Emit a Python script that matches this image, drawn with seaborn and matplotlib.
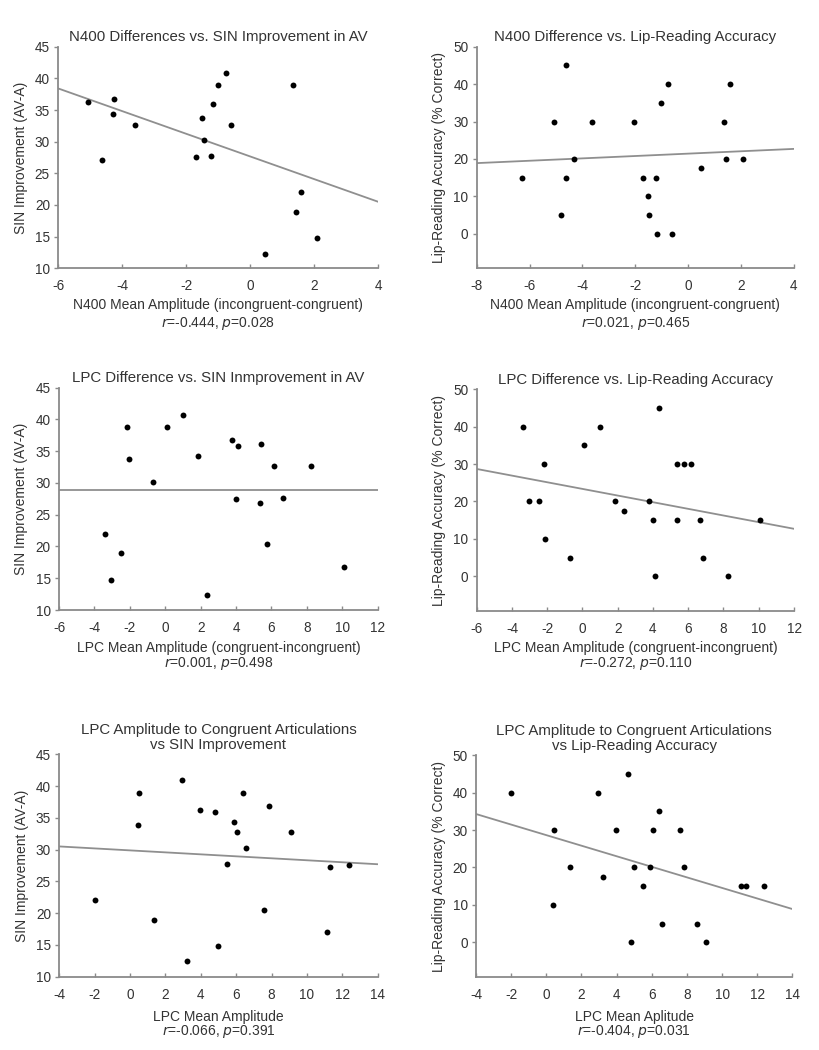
import numpy as np
import pandas as pd
import matplotlib
matplotlib.use("Agg")
import matplotlib.pyplot as plt
import seaborn as sns

sns.set_theme(style="white")
plt.rcParams['font.family'] = ['Liberation Sans', 'DejaVu Sans']
plt.rcParams['axes.unicode_minus'] = False

# ---------------- data ----------------
# Panel 1: N400 difference vs SIN improvement
p1_x = [-5.06, -4.26, -4.30, -4.63, -3.60, -1.70, -1.51, -1.46, -1.22, -1.18,
        -1.00, -0.75, -0.59, 0.47, 1.34, 1.44, 1.59, 2.08]
p1_y = [36.3, 36.8, 34.3, 27.1, 32.7, 27.6, 33.8, 30.2, 27.7, 35.9,
        38.9, 40.9, 32.7, 12.2, 38.9, 18.9, 22.0, 14.8]
p1_fit = [38.4, 20.5]

# Panel 2: N400 difference vs lip-reading accuracy
p2_x = [-6.30, -5.07, -4.64, -4.64, -4.83, -4.33, -3.63, -2.05, -1.70, -1.52,
        -1.48, -1.18, -1.22, -1.02, -0.76, -0.60, 0.47, 1.35, 1.44, 1.59, 2.08]
p2_y = [15, 30, 45, 15, 5, 20, 30, 30, 15, 10,
        5, 0, 15, 35, 40, 0, 17.5, 30, 20, 40, 20]
p2_fit = [18.9, 22.7]

# Panel 3: LPC difference vs SIN improvement
p3_x = [-2.16, -2.06, -0.71, 0.12, 1.00, 1.85, 3.76, 4.13, 5.43, 6.13,
        8.24, 4.02, 5.37, 6.66, 5.75, 10.12, -3.38, -2.48, -3.04, 2.38]
p3_y = [38.8, 33.7, 30.1, 38.8, 40.7, 34.2, 36.7, 35.8, 36.2, 32.7,
        32.7, 27.5, 26.9, 27.7, 20.4, 16.8, 21.9, 18.9, 14.8, 12.3]
p3_fit = [28.9, 28.9]

# Panel 4: LPC difference vs lip-reading accuracy
p4_x = [-3.39, -3.05, -2.46, -2.16, -2.11, -0.71, 0.11, 1.00, 1.85, 2.36,
        3.75, 4.02, 4.11, 4.32, 5.36, 5.38, 5.76, 6.14, 6.65, 6.85, 8.23, 10.09]
p4_y = [40, 20, 20, 30, 10, 5, 35, 40, 20, 17.5,
        20, 15, 0, 45, 15, 30, 30, 30, 15, 5, 0, 15]
p4_fit = [28.7, 12.7]

# Panel 5: LPC amplitude (congruent) vs SIN improvement
p5_x = [-2.00, 0.43, 0.49, 1.35, 2.95, 3.24, 3.95, 4.80, 4.99, 5.48,
        5.88, 6.06, 6.40, 6.57, 7.57, 7.84, 9.10, 11.11, 11.32, 12.40]
p5_y = [22.1, 33.8, 38.9, 19.0, 40.9, 12.4, 36.3, 35.9, 14.9, 27.8,
        34.3, 32.8, 38.9, 30.2, 20.5, 36.8, 32.8, 17.0, 27.2, 27.6]
p5_fit = [30.5, 27.7]

# Panel 6: LPC amplitude (congruent) vs lip-reading accuracy
p6_x = [-2.00, 0.46, 0.40, 1.37, 2.94, 3.25, 3.97, 4.67, 4.80, 5.01,
        5.48, 5.88, 6.07, 6.39, 6.60, 7.59, 7.86, 8.59, 9.11, 11.10, 11.35, 12.41]
p6_y = [40, 30, 10, 20, 40, 17.5, 30, 45, 0, 20,
        15, 20, 30, 35, 5, 30, 20, 5, 0, 15, 15, 15]
p6_fit = [34.3, 8.9]

titles = [
    "N400 Differences vs. SIN Improvement in AV",
    "N400 Difference vs. Lip-Reading Accuracy",
    "LPC Difference vs. SIN Inmprovement in AV",
    "LPC Difference vs. Lip-Reading Accuracy",
    "LPC Amplitude to Congruent Articulations\nvs SIN Improvement",
    "LPC Amplitude to Congruent Articulations\nvs Lip-Reading Accuracy",
]
xlabels = [
    "N400 Mean Amplitude (incongruent-congruent)",
    "N400 Mean Amplitude (incongruent-congruent)",
    "LPC Mean Amplitude (congruent-incongruent)",
    "LPC Mean Amplitude (congruent-incongruent)",
    "LPC Mean Amplitude",
    "LPC Mean Aplitude",
]
ylabels = ["SIN Improvement (AV-A)", "Lip-Reading Accuracy (% Correct)"] * 3
stats_r = ["-0.444", "0.021", "0.001", "-0.272", "-0.066", "-0.404"]
stats_p = ["0.028", "0.465", "0.498", "0.110", "0.391", "0.031"]

x_ranges = [(-6, 4), (-8, 4), (-6, 12), (-6, 12), (-4, 14), (-4, 14)]
y_ranges = [(10, 45), (-9.2, 50), (10, 45), (-9.2, 50), (10, 45), (-9.2, 50)]
y_ticks = [np.arange(10, 46, 5), np.arange(0, 51, 10)] * 3

xs = [p1_x, p2_x, p3_x, p4_x, p5_x, p6_x]
ys = [p1_y, p2_y, p3_y, p4_y, p5_y, p6_y]
fits = [p1_fit, p2_fit, p3_fit, p4_fit, p5_fit, p6_fit]

# ---------------- layout ----------------
W, H = 819, 1050
fig = plt.figure(figsize=(W / 100, H / 100), dpi=100)
boxes = [
    (58.3, 46.7, 378.3, 268.3),
    (476.7, 46.7, 794.0, 268.3),
    (59.0, 387.7, 377.7, 610.0),
    (476.7, 389.3, 794.0, 610.7),
    (59.3, 754.3, 377.7, 976.7),
    (476.0, 755.3, 792.3, 976.7),
]
xlabel_y = [305, 305, 648, 648, 1017, 1017]
stat_y = [324, 324, 663, 663, 1032, 1032]

TXT = "#333333"
SP = "#8a8a8a"
FS_TICK = 9.8
FS_LAB = 10.0

for i in range(6):
    l, t, r, b = boxes[i]
    ax = fig.add_axes([l / W, 1 - b / H, (r - l) / W, (b - t) / H])
    df = pd.DataFrame({"x": xs[i], "y": ys[i]})
    sns.scatterplot(data=df, x="x", y="y", ax=ax, color="black", s=18,
                    edgecolor="black", linewidth=0, zorder=3)
    fdf = pd.DataFrame({"x": list(x_ranges[i]), "y": fits[i]})
    sns.lineplot(data=fdf, x="x", y="y", ax=ax, color="#8f8f8f", linewidth=1.3,
                 zorder=2)
    ax.set_xlim(*x_ranges[i])
    ax.set_ylim(*y_ranges[i])
    ax.set_xticks(np.arange(x_ranges[i][0], x_ranges[i][1] + 0.1, 2))
    ax.set_yticks(y_ticks[i])
    ax.set_xlabel("")
    ax.set_ylabel(ylabels[i], fontsize=FS_LAB, color=TXT, labelpad=5)
    for s in ["top", "right"]:
        ax.spines[s].set_visible(False)
    for s in ["left", "bottom"]:
        ax.spines[s].set_color(SP)
        ax.spines[s].set_linewidth(1.3)
    ax.tick_params(axis="x", direction="in", length=3, width=1, color=SP,
                   labelsize=FS_TICK, labelcolor=TXT, pad=8, bottom=True)
    ax.tick_params(axis="y", direction="out", length=3, width=1, color=SP,
                   labelsize=FS_TICK, labelcolor=TXT, pad=3, left=True)
    ax.set_title(titles[i], fontsize=10.8, color=TXT, pad=4, linespacing=1.1)
    cx = (l + r) / 2 / W
    fig.text(cx, 1 - xlabel_y[i] / H, xlabels[i], ha="center", va="center",
             fontsize=FS_LAB, color=TXT)
    fig.text(cx, 1 - stat_y[i] / H,
             "$\\it{r}$=" + stats_r[i] + ", $\\it{p}$=" + stats_p[i],
             ha="center", va="center", fontsize=FS_LAB, color=TXT)

fig.savefig("out.png", dpi=100, facecolor="white")
